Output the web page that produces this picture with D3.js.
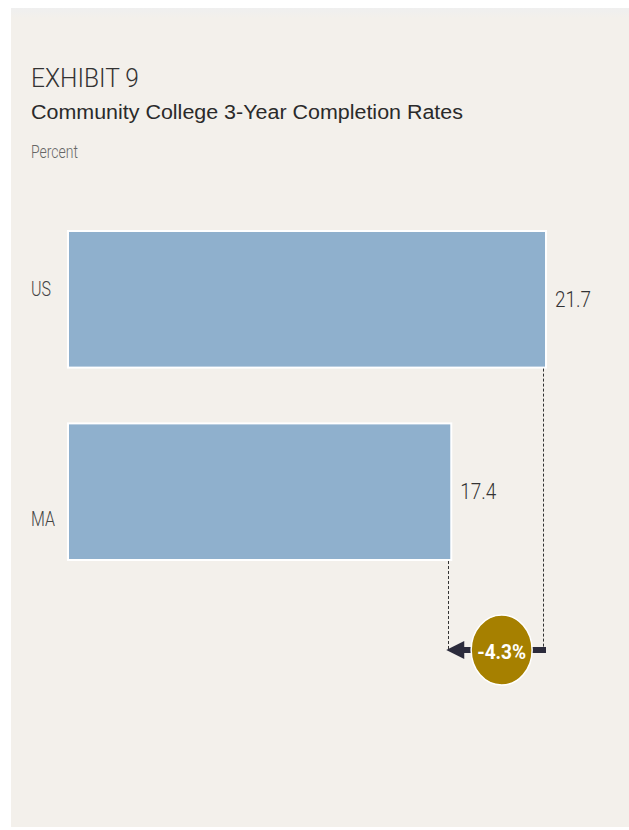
<!DOCTYPE html>
<html>
<head>
<meta charset="utf-8">
<script src="https://cdn.jsdelivr.net/npm/d3@7"></script>
<style>
  html, body { margin: 0; padding: 0; background: #ffffff; }
  svg { display: block; }
</style>
</head>
<body>
<script>
// ---- data ----
const categories = ["US", "MA"];
const values = [21.7, 17.4];
const valueLabels = ["21.7", "17.4"];
const diffLabel = "-4.3%";
const exhibit = "EXHIBIT 9";
const title = "Community College 3-Year Completion Rates";
const unitLabel = "Percent";

const W = 629, H = 830;
const svg = d3.select("body").append("svg").attr("width", W).attr("height", H);

const defs = svg.append("defs");
const grad = defs.append("linearGradient").attr("id", "bgGrad")
  .attr("x1", 0).attr("y1", 0).attr("x2", 0).attr("y2", 1);
grad.append("stop").attr("offset", "0").attr("stop-color", "#efefef");
grad.append("stop").attr("offset", "0.013").attr("stop-color", "#f3f0eb");
grad.append("stop").attr("offset", "1").attr("stop-color", "#f3f0eb");

// panel
svg.append("rect").attr("x", 11).attr("y", 8).attr("width", W - 11).attr("height", 819)
  .attr("fill", "url(#bgGrad)");

// titles
svg.append("text").attr("x", 31).attr("y", 87).text(exhibit)
  .attr("font-family", "Roboto, sans-serif").attr("font-weight", 300)
  .attr("font-size", 26).attr("fill", "#333")
  .attr("textLength", 108).attr("lengthAdjust", "spacingAndGlyphs");
svg.append("text").attr("x", 31).attr("y", 119).text(title)
  .attr("font-family", "'Liberation Sans', Arial, sans-serif").attr("font-weight", 400)
  .attr("font-size", 20).attr("fill", "#2a2a2a")
  .attr("textLength", 432).attr("lengthAdjust", "spacingAndGlyphs");
svg.append("text").attr("x", 31).attr("y", 158).text(unitLabel)
  .attr("font-family", "Roboto, sans-serif").attr("font-weight", 300)
  .attr("font-size", 18).attr("fill", "#666")
  .attr("textLength", 47).attr("lengthAdjust", "spacingAndGlyphs");

// scales
const x = d3.scaleLinear().domain([0, 21.7]).range([68, 546]);
const y = d3.scaleBand().domain(categories).range([231, 560]).paddingInner(0.29).paddingOuter(0);

const data = categories.map((c, i) => ({ cat: c, v: values[i], label: valueLabels[i] }));

// bars
svg.selectAll("rect.bar").data(data).enter().append("rect").attr("class", "bar")
  .attr("x", x(0)).attr("y", d => y(d.cat))
  .attr("width", d => x(d.v) - x(0)).attr("height", y.bandwidth())
  .attr("fill", "#8fb0cd").attr("stroke", "#ffffff").attr("stroke-width", 2);

// category labels
const labelOffsets = [-10, 27];
const catWidths = [20, 24];
svg.selectAll("text.cat").data(data).enter().append("text").attr("class", "cat")
  .attr("x", 31).attr("y", (d, i) => y(d.cat) + y.bandwidth() / 2 + labelOffsets[i])
  .attr("dominant-baseline", "central")
  .attr("font-family", "Roboto, sans-serif").attr("font-weight", 300)
  .attr("font-size", 20).attr("fill", "#444")
  .attr("textLength", (d, i) => catWidths[i]).attr("lengthAdjust", "spacingAndGlyphs")
  .text(d => d.cat);

// value labels
svg.selectAll("text.val").data(data).enter().append("text").attr("class", "val")
  .attr("x", d => x(d.v) + 9).attr("y", d => y(d.cat) + y.bandwidth() / 2)
  .attr("dominant-baseline", "central")
  .attr("font-family", "Roboto, sans-serif").attr("font-weight", 300)
  .attr("font-size", 22).attr("fill", "#333")
  .attr("textLength", 36).attr("lengthAdjust", "spacingAndGlyphs")
  .text(d => d.label);

// dotted guides
const arrowY = 650;
svg.selectAll("line.guide").data(data).enter().append("line").attr("class", "guide")
  .attr("x1", d => Math.round(x(d.v) - 3) + 0.5).attr("x2", d => Math.round(x(d.v) - 3) + 0.5)
  .attr("y1", d => y(d.cat) + y.bandwidth() + 1).attr("y2", arrowY)
  .attr("stroke", "#333").attr("stroke-width", 1).attr("stroke-dasharray", "3,2");

// arrow
const xUS = x(values[0]), xMA = x(values[1]);
const tipX = xMA - 5;
svg.append("line").attr("x1", tipX + 16).attr("x2", xUS).attr("y1", arrowY).attr("y2", arrowY)
  .attr("stroke", "#2b2b3b").attr("stroke-width", 6);
svg.append("path")
  .attr("d", `M${tipX},${arrowY} L${tipX + 18},${arrowY - 9} L${tipX + 18},${arrowY + 9} Z`)
  .attr("fill", "#2b2b3b");

// badge
const cx = (xUS + xMA) / 2 + 3;
svg.append("ellipse").attr("cx", cx).attr("cy", arrowY).attr("rx", 30.5).attr("ry", 35)
  .attr("fill", "#a68000").attr("stroke", "#ffffff").attr("stroke-width", 1.5);
svg.append("text").attr("x", cx).attr("y", arrowY + 2)
  .attr("text-anchor", "middle").attr("dominant-baseline", "central")
  .attr("font-family", "Roboto, sans-serif").attr("font-weight", 700)
  .attr("font-size", 20).attr("fill", "#ffffff")
  .attr("textLength", 49).attr("lengthAdjust", "spacingAndGlyphs")
  .text(diffLabel);
</script>
</body>
</html>
